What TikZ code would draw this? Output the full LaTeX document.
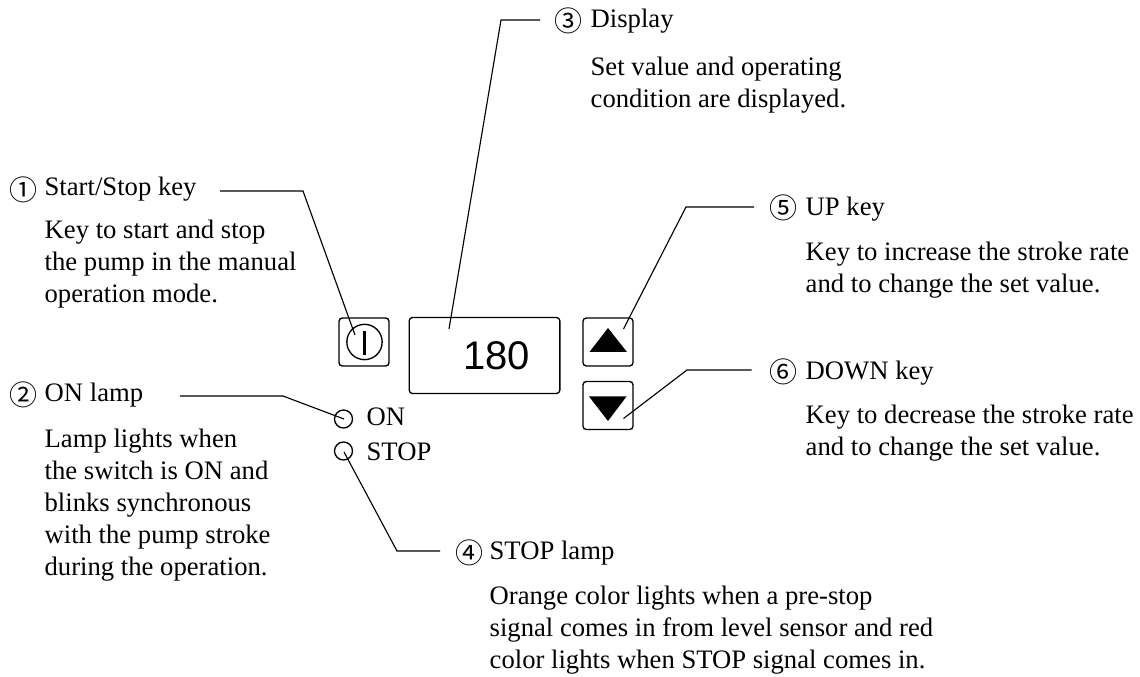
\documentclass[tikz,border=0pt]{standalone}
\usepackage{fontspec}
\setmainfont{Liberation Serif}
\setsansfont{Liberation Sans}
\newfontfamily\numfont{Noto Sans CJK JP}
\newcommand\toprule{\rule{0pt}{18pt}}
\begin{document}
\begin{tikzpicture}[x=0.75pt,y=-0.75pt,
  line width=1pt,
  lbl/.style={anchor=base west,inner sep=0pt,font=\fontsize{20pt}{24pt}\selectfont},
  para/.style={anchor=north west,inner sep=0pt,align=left,font=\fontsize{20pt}{24pt}\selectfont},
  num/.style={anchor=center,inner sep=0pt,font=\numfont\fontsize{21pt}{24pt}\selectfont},
  keybox/.style={draw,rounded corners=2.5pt,minimum width=37.5pt,minimum height=36pt,inner sep=0pt},
  lamp/.style={draw,circle,minimum size=13.5pt,inner sep=0pt},
  leader/.style={draw,line width=0.85pt}]
\useasboundingbox (0,0) rectangle (1140,677);
\fill[white] (0,0) rectangle (1140,677);
% panel
\node[keybox] (startkey) at (364,342) {};
\node[draw,circle,minimum size=26.5pt,inner sep=0pt] (startring) at (364.5,342) {};
\draw[line width=2.6pt] (364.5,331) coordinate (bara) -- (364.5,355) coordinate (barb);
\node[draw,rounded corners=2.5pt,minimum width=113pt,minimum height=57pt,inner sep=0pt] (display) at (484.5,355.5) {};
\node[inner sep=0pt,font=\sffamily\fontsize{30pt}{32pt}\selectfont] (value) at (496.5,355.5) {180};
\node[keybox] (upkey) at (608,342) {};
\node[keybox] (downkey) at (608,405.5) {};
\fill (608,328) -- (627,352) -- (589.5,352) -- cycle;
\fill (589,396.5) -- (626.5,396.5) -- (608,421) -- cycle;
\node[lamp] (onlamp) at (343.5,419) {};
\node[lamp] (stoplamp) at (343.5,451) {};
\node[lbl] (onlbl) at (366,426) {ON};
\node[lbl] (stoplbl) at (366,460) {STOP};
% callouts
\node[num] (n3) at (568.5,21) {③};
\node[lbl] (t3) at (590,28) {Display};
\node[para] (p3) at (590,51) {\toprule Set value and operating\\condition are displayed.};
\node[num] (n1) at (23.5,190) {①};
\node[lbl] (t1) at (44,196) {Start/Stop key};
\node[para] (p1) at (44,214) {\toprule Key to start and stop\\the pump in the manual\\operation mode.};
\node[num] (n5) at (783.5,208) {⑤};
\node[lbl] (t5) at (805,216) {UP key};
\node[para] (p5) at (805,236) {\toprule Key to increase the stroke rate\\and to change the set value.};
\node[num] (n6) at (783.5,372) {⑥};
\node[lbl] (t6) at (805,380) {DOWN key};
\node[para] (p6) at (805,399) {\toprule Key to decrease the stroke rate\\and to change the set value.};
\node[num] (n2) at (23.5,395) {②};
\node[lbl] (t2) at (44,402) {ON lamp};
\node[para] (p2) at (44,423) {\toprule Lamp lights when\\the switch is ON and\\blinks synchronous\\with the pump stroke\\during the operation.};
\node[num] (n4) at (469.5,553) {④};
\node[lbl] (t4) at (489,559) {STOP lamp};
\node[para] (p4) at (489,580) {\toprule Orange color lights when a pre-stop\\signal comes in from level sensor and red\\color lights when STOP signal comes in.};
% leader ends
\coordinate (e1) at (355,335);
\coordinate (e3) at (449,329);
\coordinate (e5) at (623.5,329);
\coordinate (e6) at (623.5,418.5);
\coordinate (e2) at (344,419);
\coordinate (e4) at (344,452);
\coordinate (s1) at (220,191);
\coordinate (s3) at (540,20);
\coordinate (s5) at (754,207);
\coordinate (s6) at (751.5,370);
\coordinate (s2) at (180,396);
\coordinate (s4) at (440,551);
\draw[leader] (s1) -- (303,191) -- (e1);
\draw[leader] (s3) -- (501,20) -- (e3);
\draw[leader] (s5) -- (686,207) -- (e5);
\draw[leader] (s6) -- (687,370) -- (e6);
\draw[leader] (s2) -- (283,396) -- (e2);
\draw[leader] (s4) -- (397,551) -- (e4);
\end{tikzpicture}
\end{document}
